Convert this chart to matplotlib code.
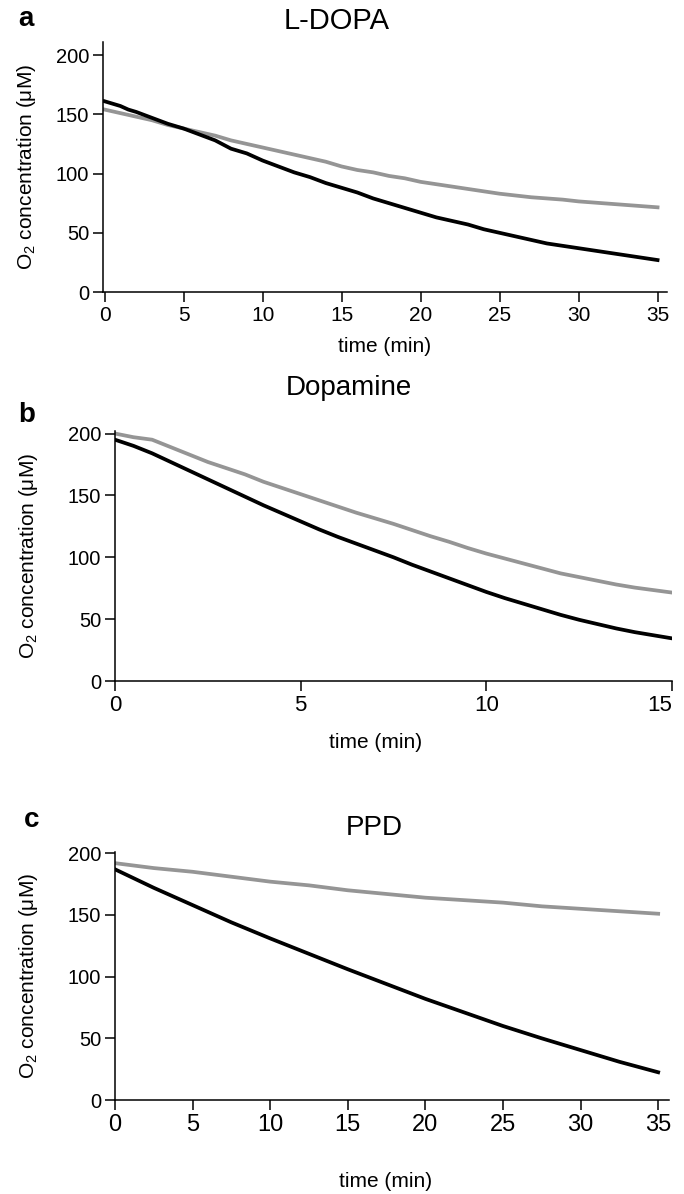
import numpy as np
import matplotlib
matplotlib.use("Agg")
import matplotlib.pyplot as plt

plt.rcParams['font.family'] = ['Liberation Sans', 'DejaVu Sans']
plt.rcParams['mathtext.default'] = 'regular'

# Panel a: L-DOPA (O2 in uM vs time in min)
t_a = [0, 1, 1.5, 2, 3, 4, 5, 6, 7, 8, 9, 10, 11, 12, 13, 14, 15, 16, 17, 18,
       19, 20, 21, 22, 23, 24, 25, 26, 27, 28, 29, 30, 31, 32, 33, 34, 35]
black_a = [161, 157, 154, 152, 147, 142, 138, 133, 128, 121, 117, 111, 106, 101, 97, 92, 88, 84, 79, 75,
           71, 67, 63, 60, 57, 53, 50, 47, 44, 41, 39, 37, 35, 33, 31, 29, 27]
gray_a = [154, 151, 149.5, 148, 145, 141, 138, 135, 132, 128, 125, 122, 119, 116, 113, 110, 106, 103, 101, 98,
          96, 93, 91, 89, 87, 85, 83, 81.5, 80, 79, 78, 76.5, 75.5, 74.5, 73.5, 72.5, 71.5]

# Panel b: Dopamine
t_b = [0, 0.5, 1, 1.5, 2, 2.5, 3, 3.5, 4, 4.5, 5, 5.5, 6, 6.5, 7, 7.5, 8, 8.5, 9, 9.5,
       10, 10.5, 11, 11.5, 12, 12.5, 13, 13.5, 14, 14.5, 15]
black_b = [195, 190, 184, 177, 170, 163, 156, 149, 142, 135.5, 129, 122.5, 116.5, 111, 105.5, 100, 94, 88.5, 83, 77.5,
           72, 67, 62.5, 58, 53.5, 49.5, 46, 42.5, 39.5, 37, 34.5]
gray_b = [200, 197, 195, 189, 183, 177, 172, 167, 161, 156, 151, 146, 141, 136, 131.5, 127, 122, 117, 112.5, 107.5,
          103, 99, 95, 91, 87, 84, 81, 78, 75.5, 73.5, 71.5]

# Panel c: PPD
t_c = [0, 2.5, 5, 7.5, 10, 12.5, 15, 17.5, 20, 22.5, 25, 27.5, 30, 32.5, 35]
black_c = [187, 172, 158, 144, 131, 118.5, 106, 94, 82, 71, 60, 50, 40.5, 31, 22.5]
gray_c = [192, 188, 185, 181, 177, 174, 170, 167, 164, 162, 160, 157, 155, 153, 151]

GRAY = '#959595'
YLABEL = 'O$_2$ concentration (μM)'
LW = 2.7

fig = plt.figure(figsize=(6.84, 11.94), dpi=100)

# axes placed to match the reference layout (figure fractions)
ax_a = fig.add_axes([0.1506, 0.7554, 0.8246, 0.2094])
ax_b = fig.add_axes([0.1681, 0.4296, 0.8143, 0.2094])
ax_c = fig.add_axes([0.1681, 0.0787, 0.8100, 0.2077])


def style(ax, xticks, xlim, ylim, xtick_fs):
    for s in ['top', 'right']:
        ax.spines[s].set_visible(False)
    for s in ['left', 'bottom']:
        ax.spines[s].set_linewidth(1.1)
    ax.set_xlim(xlim)
    ax.set_ylim(ylim)
    ax.set_xticks(xticks)
    ax.set_yticks([0, 50, 100, 150, 200])
    ax.tick_params(axis='both', direction='out', length=7, width=1.1, pad=3)
    ax.tick_params(axis='y', labelsize=14.5)
    ax.tick_params(axis='x', labelsize=xtick_fs)


# a
ax_a.plot(t_a, gray_a, color=GRAY, lw=LW)
ax_a.plot(t_a, black_a, color='black', lw=LW)
style(ax_a, [0, 5, 10, 15, 20, 25, 30, 35], (-0.1, 35.6), (0, 211), 15)
ax_a.set_xlabel('time (min)', fontsize=15)
ax_a.xaxis.set_label_coords(0.5, -0.18)
ax_a.set_ylabel(YLABEL, fontsize=15)
ax_a.yaxis.set_label_coords(-0.115, 0.5)
fig.text(337 / 684, 1 - 21 / 1194, 'L-DOPA', ha='center', va='center', fontsize=21)
fig.text(18 / 684, 1 - 19 / 1194, 'a', ha='left', va='center', fontsize=20, fontweight='bold')

# b
ax_b.plot(t_b, gray_b, color=GRAY, lw=LW)
ax_b.plot(t_b, black_b, color='black', lw=LW)
style(ax_b, [0, 5, 10, 15], (0, 15), (0, 202), 16)
ax_b.get_xticklabels()[-1].set_ha('right')
ax_b.set_xlabel('time (min)', fontsize=15)
ax_b.xaxis.set_label_coords(0.467, -0.208)
ax_b.set_ylabel(YLABEL, fontsize=15)
ax_b.yaxis.set_label_coords(-0.135, 0.5)
fig.text(349 / 684, 1 - 388 / 1194, 'Dopamine', ha='center', va='center', fontsize=20)
fig.text(18 / 684, 1 - 415 / 1194, 'b', ha='left', va='center', fontsize=20, fontweight='bold')

# c
ax_c.plot(t_c, gray_c, color=GRAY, lw=LW)
ax_c.plot(t_c, black_c, color='black', lw=LW)
style(ax_c, [0, 5, 10, 15, 20, 25, 30, 35], (0, 35.7), (0, 201), 17)
ax_c.set_xlabel('time (min)', fontsize=15)
ax_c.xaxis.set_label_coords(0.489, -0.29)
ax_c.set_ylabel(YLABEL, fontsize=15)
ax_c.yaxis.set_label_coords(-0.135, 0.5)
fig.text(374 / 684, 1 - 828 / 1194, 'PPD', ha='center', va='center', fontsize=20)
fig.text(24 / 684, 1 - 820 / 1194, 'c', ha='left', va='center', fontsize=20, fontweight='bold')

fig.savefig('out.png', dpi=100)
